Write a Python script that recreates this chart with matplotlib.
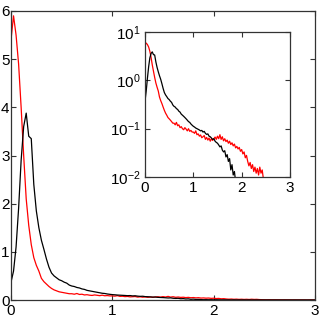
import matplotlib
matplotlib.use("Agg")
import matplotlib.pyplot as plt
import numpy as np

plt.rcParams['font.family'] = ['Liberation Sans', 'DejaVu Sans']
plt.rcParams['mathtext.fontset'] = 'custom'
plt.rcParams['mathtext.rm'] = 'Liberation Sans'

# bin centres every 0.025 from 0 to 3
x = np.arange(121) * 0.025

red = [5.4, 5.9, 5.5, 4.9, 4.0, 3.0, 2.1, 1.55, 1.15, 0.88,
       0.72, 0.6, 0.45, 0.38, 0.33, 0.28, 0.24, 0.21, 0.19, 0.17,
       0.16, 0.15, 0.14, 0.13, 0.13, 0.12, 0.135, 0.115, 0.12, 0.105,
       0.11, 0.1, 0.095, 0.105, 0.098, 0.09, 0.1, 0.088, 0.092, 0.085,
       0.085, 0.08, 0.09, 0.075, 0.078, 0.07, 0.074, 0.065, 0.068, 0.072,
       0.06, 0.066, 0.058, 0.064, 0.055, 0.062, 0.057, 0.062, 0.067, 0.06,
       0.07, 0.062, 0.075, 0.06, 0.068, 0.056, 0.062, 0.054, 0.058, 0.05,
       0.055, 0.047, 0.051, 0.044, 0.048, 0.04, 0.043, 0.038, 0.041, 0.034,
       0.037, 0.03, 0.033, 0.025, 0.028, 0.021, 0.017, 0.02, 0.015, 0.018,
       0.013, 0.016, 0.012, 0.015, 0.011, 0.016, 0.012, 0.014, 0.009, 0.007,
       0.006, 0.005, 0.006, 0.004, 0.005, 0.004, 0.004, 0.003, 0.004, 0.003,
       0.003, 0.002, 0.003, 0.002, 0.002, 0.002, 0.002, 0.001, 0.002, 0.001,
       0.001]

black = [0.37, 0.6, 1.1, 1.9, 2.9, 3.6, 3.88, 3.4, 3.35, 2.4,
         1.85, 1.5, 1.24, 1.05, 0.85, 0.68, 0.56, 0.5, 0.46, 0.42,
         0.4, 0.37, 0.35, 0.31, 0.29, 0.28, 0.26, 0.25, 0.23, 0.22,
         0.2, 0.19, 0.18, 0.17, 0.16, 0.15, 0.14, 0.135, 0.125, 0.118,
         0.112, 0.108, 0.103, 0.1, 0.097, 0.094, 0.09, 0.092, 0.085, 0.088,
         0.08, 0.076, 0.078, 0.07, 0.068, 0.064, 0.06, 0.062, 0.055, 0.052,
         0.05, 0.046, 0.042, 0.044, 0.036, 0.033, 0.035, 0.026, 0.029, 0.021,
         0.024, 0.014, 0.018, 0.011, 0.013, 0.008, 0.006, 0.007, 0.005, 0.006,
         0.004, 0.005, 0.004, 0.003, 0.004, 0.003, 0.003, 0.002, 0.003, 0.002,
         0.002, 0.002, 0.002, 0.001, 0.002, 0.001, 0.001, 0.001, 0.001, 0.001,
         0.001, 0.001, 0.001, 0.001, 0.001, 0.001, 0.001, 0.001, 0.001, 0.001,
         0.001, 0.001, 0.001, 0.001, 0.001, 0.001, 0.001, 0.001, 0.001, 0.001,
         0.001]

main_xticks = [0, 1, 2, 3]
main_yticks = [0, 1, 2, 3, 4, 5, 6]
inset_yticks = [1e-2, 1e-1, 1e0, 1e1]

axcol = '#333333'

def style(ax):
    for s in ax.spines.values():
        s.set_color(axcol)
        s.set_linewidth(0.9)
    ax.tick_params(direction='in', top=True, right=True, length=3.5,
                   width=0.8, color=axcol, labelsize=11, pad=3)

fig = plt.figure(figsize=(3.22, 3.18), dpi=100)
ax = fig.add_axes([11/322, 18/318, 304/322, 289/318])
ax.plot(x, red, color='red', lw=0.9)
ax.plot(x, black, color='black', lw=0.9)
ax.set_xlim(0, 3)
ax.set_ylim(0, 6)
ax.set_xticks(main_xticks)
ax.set_yticks(main_yticks)
style(ax)
ax.tick_params(axis='y', pad=1)

ins = fig.add_axes([145/322, 141/318, 145/322, 145/318])
ins.plot(x, red, color='red', lw=0.9)
ins.plot(x, black, color='black', lw=0.9)
ins.set_yscale('log')
ins.set_xlim(0, 3)
ins.set_ylim(1e-2, 1e1)
ins.set_xticks(main_xticks)
ins.set_yticks(inset_yticks)
ins.minorticks_off()
style(ins)

fig.savefig('out.png', dpi=100)
